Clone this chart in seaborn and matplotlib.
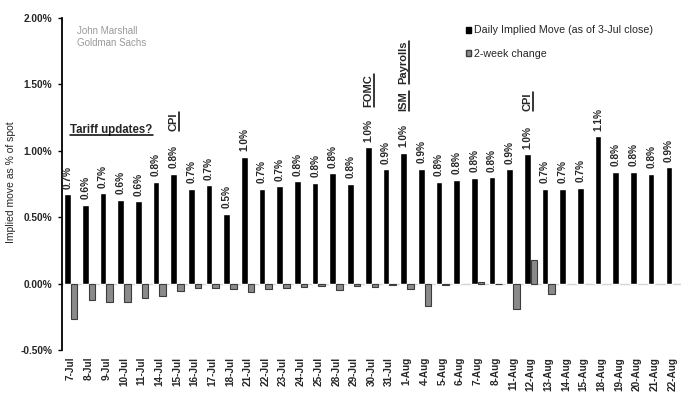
import matplotlib
matplotlib.use("Agg")
import matplotlib.pyplot as plt
from matplotlib.lines import Line2D
from matplotlib.patches import Patch
import seaborn as sns
import pandas as pd

dates = ["7-Jul", "8-Jul", "9-Jul", "10-Jul", "11-Jul", "14-Jul", "15-Jul", "16-Jul",
         "17-Jul", "18-Jul", "21-Jul", "22-Jul", "23-Jul", "24-Jul", "25-Jul", "28-Jul",
         "29-Jul", "30-Jul", "31-Jul", "1-Aug", "4-Aug", "5-Aug", "6-Aug", "7-Aug",
         "8-Aug", "11-Aug", "12-Aug", "13-Aug", "14-Aug", "15-Aug", "18-Aug", "19-Aug",
         "20-Aug", "21-Aug", "22-Aug"]
implied_move = [0.674, 0.593, 0.681, 0.633, 0.621, 0.766, 0.829, 0.714,
                0.741, 0.525, 0.957, 0.714, 0.734, 0.769, 0.759, 0.832,
                0.751, 1.025, 0.862, 0.987, 0.865, 0.766, 0.781, 0.797,
                0.802, 0.86, 0.975, 0.714, 0.714, 0.721, 1.111, 0.842,
                0.842, 0.827, 0.877]
two_week_change = [-0.264, -0.12, -0.136, -0.136, -0.11, -0.095, -0.055, -0.03,
                   -0.03, -0.038, -0.065, -0.04, -0.03, -0.025, -0.018, -0.045,
                   -0.018, -0.025, -0.008, -0.038, -0.168, -0.013, 0.0, 0.01,
                   -0.005, -0.19, 0.18, -0.078, 0.0, 0.0, 0.0, 0.0,
                   0.0, 0.0, 0.0]
series_names = ["Daily Implied Move (as of 3-Jul close)", "2-week change"]
events = [("CPI", "15-Jul", 1.15), ("FOMC", "30-Jul", 1.33),
          ("ISM", "1-Aug", 1.30), ("Payrolls", "1-Aug", 1.50),
          ("CPI", "12-Aug", 1.30)]
tariff_note = ("Tariff updates?", 2.3, 1.136)

df = pd.DataFrame({
    "date": dates * 2,
    "value": implied_move + two_week_change,
    "series": [series_names[0]] * len(dates) + [series_names[1]] * len(dates),
})

sns.set_theme(style="white")
plt.rcParams["font.family"] = ["Liberation Sans", "DejaVu Sans"]

fig = plt.figure(figsize=(6.89, 3.97), dpi=100)
ax = fig.add_axes([62 / 689, 1 - 350 / 397, 619 / 689, 332 / 397])

sns.barplot(data=df, x="date", y="value", hue="series", hue_order=series_names,
            palette={series_names[0]: "black", series_names[1]: "#8a8a8a"},
            width=0.75, saturation=1, ax=ax, legend=False, order=dates)

for p, v in zip(ax.containers[1], two_week_change):
    p.set_edgecolor("#3c3c3c")
    p.set_linewidth(0.8 if v != 0 else 0)

ax.set_ylim(-0.5, 2.0)
ax.set_xlim(-0.5, len(dates) - 0.5)
yt = [-0.5, 0.0, 0.5, 1.0, 1.5, 2.0]
ax.set_yticks(yt)
ax.set_yticklabels([f"{v:.2f}%" for v in yt], fontsize=7.3, fontweight="bold")
ax.tick_params(axis="y", length=3, width=1, pad=4, left=True, color="black")
ax.tick_params(axis="x", length=0, pad=5)
for lbl in ax.get_xticklabels():
    lbl.set_rotation(90)
    lbl.set_fontsize(7.2)
    lbl.set_fontweight("bold")

for s in ["top", "right", "bottom"]:
    ax.spines[s].set_visible(False)
ax.spines["left"].set_color("black")
ax.spines["left"].set_linewidth(1.3)
ax.axhline(0, color="#d4d4d4", lw=1, zorder=0)

ax.set_xlabel("")
ax.set_ylabel("Implied move as % of spot", fontsize=7.5)
ax.yaxis.set_label_coords(-0.074, 0.506)

ax.bar_label(ax.containers[0], labels=[f"{v:.1f}%" for v in implied_move],
             rotation=90, padding=4, fontsize=7.3, fontweight="bold")

ax.text(0.024, 0.976, "John Marshall\nGoldman Sachs", transform=ax.transAxes,
        ha="left", va="top", fontsize=7, color="#9a9a9a", linespacing=1.3)

handles = [Patch(facecolor="black", edgecolor="black"),
           Patch(facecolor="#8a8a8a", edgecolor="#3c3c3c")]
ax.legend(handles, series_names, loc="upper left", bbox_to_anchor=(0.641, 1.0),
          frameon=False, fontsize=7.7, handlelength=0.45, handleheight=0.45,
          handletextpad=0.3, labelspacing=1.25, borderaxespad=0.3)

bars = list(ax.containers[0])
texts = []
for label, d, y in events:
    r = bars[dates.index(d)]
    xc = r.get_x() + r.get_width() / 2
    t = ax.text(xc, y, label, rotation=90, ha="center", va="bottom",
                fontsize=8, fontweight="bold")
    texts.append((t, "v"))
t = ax.text(tariff_note[1], tariff_note[2], tariff_note[0], ha="center",
            va="baseline", fontsize=8.3, fontweight="bold")
texts.append((t, "h"))

fig.canvas.draw()
inv = fig.transFigure.inverted()
for t, kind in texts:
    bb = t.get_window_extent()
    if kind == "h":
        (x0, y0), (x1, y1) = inv.transform([(bb.x0, bb.y0 + 1), (bb.x1, bb.y0 + 1)])
    else:
        (x0, y0), (x1, y1) = inv.transform([(bb.x1 + 0.5, bb.y0), (bb.x1 + 0.5, bb.y1)])
    fig.add_artist(Line2D([x0, x1], [y0, y1], color="black", lw=1.1,
                          transform=fig.transFigure))

fig.savefig("out.png", dpi=100)
